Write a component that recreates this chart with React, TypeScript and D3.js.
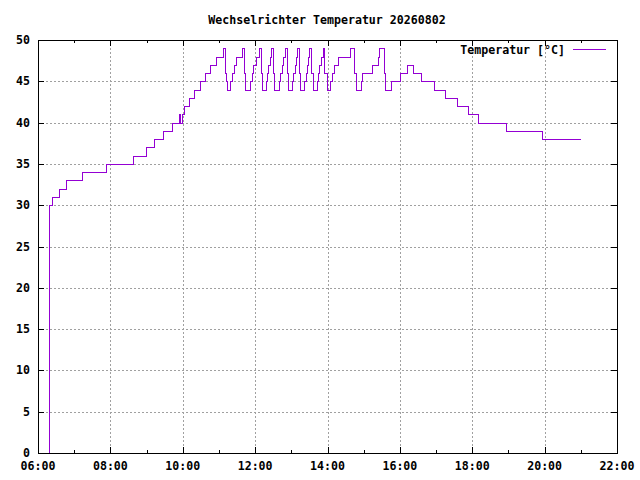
import * as d3 from "d3";

const WIDTH = 640;
const HEIGHT = 480;

const title = "Wechselrichter Temperatur 20260802";
const seriesLabel = "Temperatur [°C]";

// sample times (HH:MM) where the reading changes, and the reading from then on
const sampleTimes = [
    "06:17", "06:18", "06:23", "06:35", "06:47", "07:13", "07:52", "08:38", "08:59", "09:12",
    "09:27", "09:43", "09:53", "09:55", "09:58", "10:02", "10:10", "10:19", "10:28", "10:37",
    "10:45", "10:55", "11:06", "11:10", "11:12", "11:14",
    "11:19", "11:22", "11:25", "11:29", "11:38", "11:42", "11:44",
    "11:51", "11:54", "11:57", "12:01", "12:06", "12:09", "12:11",
    "12:18", "12:20", "12:22", "12:25", "12:27", "12:29", "12:32",
    "12:39", "12:41", "12:44", "12:47", "12:50", "12:53", "12:55",
    "13:01", "13:03", "13:06", "13:08", "13:10", "13:13", "13:15",
    "13:21", "13:24", "13:26", "13:28", "13:30", "13:33", "13:36",
    "13:42", "13:44", "13:46", "13:49", "13:52", "13:55", "13:59",
    "14:04", "14:07", "14:10", "14:18", "14:37", "14:44", "14:47",
    "14:56", "14:58", "15:14", "15:23", "15:25", "15:33", "15:36",
    "15:45", "16:00", "16:11", "16:21", "16:35", "16:57", "17:15", "17:35", "17:53", "18:10",
    "18:56", "19:55", "21:00",
];
const temperatures = [
    0, 30, 31, 32, 33, 34, 35, 36, 37, 38,
    39, 40, 41, 40, 41, 42, 43, 44, 45, 46,
    47, 48, 49, 46, 45, 44,
    45, 46, 47, 48, 49, 46, 44,
    45, 46, 47, 48, 49, 46, 44,
    45, 46, 47, 48, 49, 46, 44,
    45, 46, 47, 48, 49, 46, 44,
    45, 46, 47, 48, 49, 46, 44,
    45, 46, 47, 48, 49, 46, 44,
    45, 46, 47, 48, 49, 46, 44,
    45, 46, 47, 48, 49, 46, 44,
    45, 46, 47, 48, 49, 46, 44,
    45, 46, 47, 46, 45, 44, 43, 42, 41, 40,
    39, 38, 38,
];

const dayStart = "06:00";
const dayEnd = "22:00";
const yDomain = [0, 50];

const FONT = "'DejaVu Sans Mono', 'Liberation Mono', monospace";
const LINE_COLOR = "#9400d3";

const parseTime = (s: string) => {
    const [h, m] = s.split(":").map(Number);
    return new Date(2026, 7, 2, h, m);
};

type Point = { t: Date; v: number };

export default function App() {
    const margin = { top: 40, right: 23, bottom: 27, left: 38 };
    const x = d3
        .scaleTime()
        .domain([parseTime(dayStart), parseTime(dayEnd)])
        .range([margin.left, WIDTH - margin.right]);
    const y = d3
        .scaleLinear()
        .domain(yDomain)
        .range([HEIGHT - margin.bottom, margin.top]);

    const data: Point[] = sampleTimes.map((s, i) => ({ t: parseTime(s), v: temperatures[i] }));
    const line = d3
        .line<Point>()
        .x((d) => x(d.t))
        .y((d) => y(d.v))
        .curve(d3.curveStepAfter);

    const fmt = d3.timeFormat("%H:%M");
    const majorX = x.ticks(d3.timeHour.every(2)!);
    const minorX = x.ticks(d3.timeHour.every(1)!).filter((d) => d.getHours() % 2 === 1);
    const yTicks = y.ticks(10);

    const [x0, x1] = x.range();
    const [yBottom, yTop] = y.range();
    const px = (v: number) => Math.round(v) + 0.5;

    return (
        <svg
            width={WIDTH}
            height={HEIGHT}
            style={{ position: "absolute", left: 0, top: 0, background: "#fff" }}
            fontFamily={FONT}
            fontWeight="bold"
            fontSize={11.6}
        >
            <rect width={WIDTH} height={HEIGHT} fill="#fff" />

            {/* grid */}
            <g stroke="#a0a0a0" strokeWidth={1} strokeDasharray="2,2" shapeRendering="crispEdges">
                {yTicks
                    .filter((v) => v !== yDomain[0] && v !== yDomain[1])
                    .map((v) => (
                        <line key={`gy${v}`} x1={x0} x2={x1} y1={px(y(v))} y2={px(y(v))} />
                    ))}
                {majorX
                    .filter((d) => +d !== +x.domain()[0] && +d !== +x.domain()[1])
                    .map((d) => (
                        <line key={`gx${+d}`} x1={px(x(d))} x2={px(x(d))} y1={yTop} y2={yBottom} />
                    ))}
            </g>

            {/* ticks */}
            <g stroke="#000" strokeWidth={1} shapeRendering="crispEdges">
                {yTicks.map((v) => (
                    <g key={`ty${v}`}>
                        <line x1={x0} x2={x0 + 6} y1={px(y(v))} y2={px(y(v))} />
                        <line x1={x1 - 6} x2={x1} y1={px(y(v))} y2={px(y(v))} />
                    </g>
                ))}
                {majorX.map((d) => (
                    <g key={`tx${+d}`}>
                        <line x1={px(x(d))} x2={px(x(d))} y1={yBottom} y2={yBottom - 6} />
                        <line x1={px(x(d))} x2={px(x(d))} y1={yTop} y2={yTop + 6} />
                    </g>
                ))}
                {minorX.map((d) => (
                    <g key={`mx${+d}`}>
                        <line x1={px(x(d))} x2={px(x(d))} y1={yBottom} y2={yBottom - 3} />
                        <line x1={px(x(d))} x2={px(x(d))} y1={yTop} y2={yTop + 3} />
                    </g>
                ))}
            </g>

            {/* data */}
            <path
                d={line(data) ?? ""}
                fill="none"
                stroke={LINE_COLOR}
                strokeWidth={1}
                shapeRendering="crispEdges"
                transform="translate(0.5,0.5)"
            />

            {/* frame */}
            <rect
                x={px(x0)}
                y={px(yTop)}
                width={Math.round(x1) - Math.round(x0)}
                height={Math.round(yBottom) - Math.round(yTop)}
                fill="none"
                stroke="#000"
                shapeRendering="crispEdges"
            />

            {/* tick labels */}
            <g fill="#000">
                {yTicks.map((v) => (
                    <text key={`ly${v}`} x={x0 - 8} y={y(v) + 4} textAnchor="end">
                        {v}
                    </text>
                ))}
                {majorX.map((d) => (
                    <text key={`lx${+d}`} x={x(d)} y={yBottom + 17} textAnchor="middle">
                        {fmt(d)}
                    </text>
                ))}
            </g>

            {/* title */}
            <text x={327} y={24} textAnchor="middle" fill="#000">
                {title}
            </text>

            {/* legend */}
            <text x={565} y={54} textAnchor="end" fill="#000">
                {seriesLabel}
            </text>
            <line x1={573} x2={606} y1={49.5} y2={49.5} stroke={LINE_COLOR} shapeRendering="crispEdges" />
        </svg>
    );
}
